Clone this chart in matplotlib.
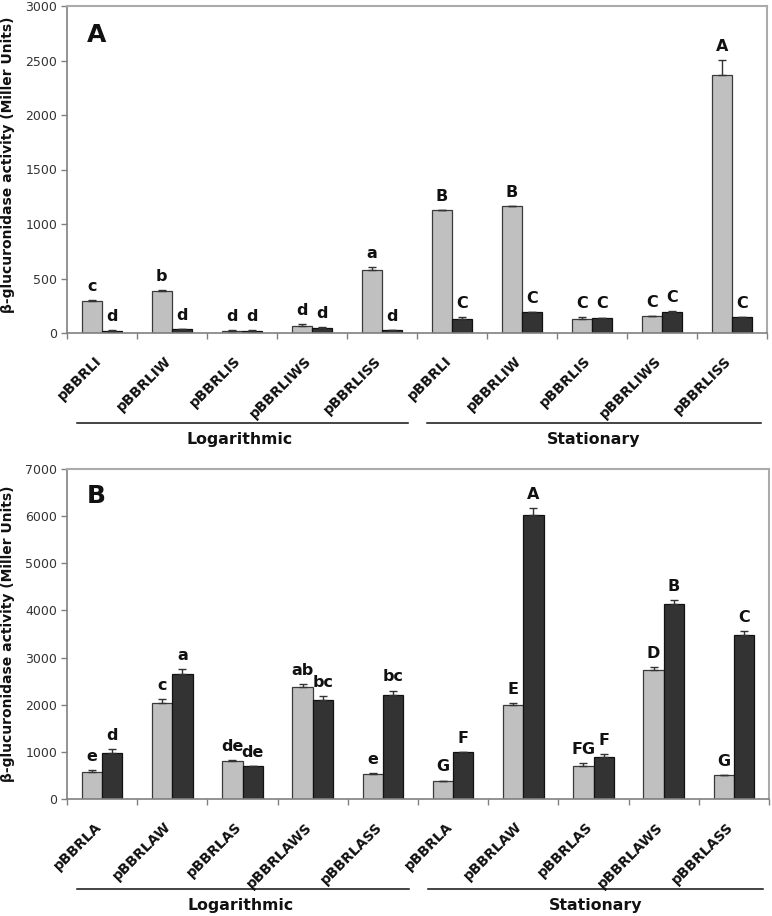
import matplotlib
matplotlib.use("Agg")
import matplotlib.pyplot as plt
import numpy as np

plt.rcParams['font.family'] = ['DejaVu Sans']

# ---------------- data ----------------
labels_A = ["pBBRLI", "pBBRLIW", "pBBRLIS", "pBBRLIWS", "pBBRLISS",
            "pBBRLI", "pBBRLIW", "pBBRLIS", "pBBRLIWS", "pBBRLISS"]
gray_A = [296, 385, 22, 67, 581, 1125, 1161, 131, 152, 2363]
gray_A_err = [5, 12, 3, 18, 27, 5, 5, 14, 4, 144]
dark_A = [20, 35, 20, 50, 25, 125, 189, 138, 193, 147]
dark_A_err = [3, 3, 3, 4, 3, 18, 5, 4, 6, 4]
letters_gray_A = ["c", "b", "d", "d", "a", "B", "B", "C", "C", "A"]
letters_dark_A = ["d", "d", "d", "d", "d", "C", "C", "C", "C", "C"]

labels_B = ["pBBRLA", "pBBRLAW", "pBBRLAS", "pBBRLAWS", "pBBRLASS",
            "pBBRLA", "pBBRLAW", "pBBRLAS", "pBBRLAWS", "pBBRLASS"]
gray_B = [580, 2032, 807, 2371, 524, 382, 1996, 708, 2732, 503]
gray_B_err = [35, 90, 12, 65, 20, 10, 40, 50, 70, 10]
dark_B = [983, 2647, 700, 2109, 2201, 991, 6030, 892, 4126, 3482]
dark_B_err = [70, 105, 10, 70, 100, 12, 140, 55, 85, 90]
letters_gray_B = ["e", "c", "de", "ab", "e", "G", "E", "FG", "D", "G"]
letters_dark_B = ["d", "a", "de", "bc", "bc", "F", "A", "F", "B", "C"]

phases = ["Logarithmic", "Stationary"]
ylim_A = 3000
ylim_B = 7000
yticks_A = [0, 500, 1000, 1500, 2000, 2500, 3000]
yticks_B = [0, 1000, 2000, 3000, 4000, 5000, 6000, 7000]

# ---------------- style ----------------
W, H = 772, 916
DPI = 100
GRAY = "#C0C0C0"
DARK = "#333333"
bw = 0.29

fig = plt.figure(figsize=(W / DPI, H / DPI), dpi=DPI)


def px_axes(left, top, right, bottom):
    return fig.add_axes([left / W, 1 - bottom / H, (right - left) / W, (bottom - top) / H])


def draw_panel(ax, labels, gv, ge, dv, de, lg, ld, ymax, yticks, letter, letter_y, ax_h_px):
    n = len(labels)
    x = np.arange(n)
    ax.bar(x - bw / 2, gv, bw, color=GRAY, edgecolor="#3a3a3a", linewidth=0.9, zorder=2)
    ax.bar(x + bw / 2, dv, bw, color=DARK, edgecolor="#111111", linewidth=0.9, zorder=2)
    ax.errorbar(x - bw / 2, gv, yerr=[np.zeros(n), ge], fmt="none", ecolor="#333333",
                elinewidth=1.0, capsize=3, capthick=1.0, zorder=3)
    ax.errorbar(x + bw / 2, dv, yerr=[np.zeros(n), de], fmt="none", ecolor="#333333",
                elinewidth=1.0, capsize=3, capthick=1.0, zorder=3)
    for i in range(n):
        ax.annotate(lg[i], xy=(x[i] - bw / 2, gv[i] + ge[i]), xytext=(0, 6.5),
                    textcoords="offset points", ha="center", va="baseline",
                    fontsize=11.5, fontweight="bold", color="#111111")
        ax.annotate(ld[i], xy=(x[i] + bw / 2, dv[i] + de[i]), xytext=(0, 6.5),
                    textcoords="offset points", ha="center", va="baseline",
                    fontsize=11.5, fontweight="bold", color="#111111")
    ax.set_xlim(-0.5, n - 0.5)
    ax.set_ylim(0, ymax)
    ax.set_yticks(yticks)
    ax.set_yticklabels([str(t) for t in yticks], fontsize=9, color="#333333")
    ax.tick_params(axis="y", direction="out", length=4, width=1, color="#808080", pad=3)
    ax.set_xticks(np.arange(-0.5, n, 1.0))
    ax.set_xticklabels([])
    ax.tick_params(axis="x", direction="out", length=4, width=1, color="#808080")
    for s in ["left", "bottom"]:
        ax.spines[s].set_color("#808080")
        ax.spines[s].set_linewidth(1.2)
    for s in ["top", "right"]:
        ax.spines[s].set_color("#ABABAB")
        ax.spines[s].set_linewidth(1.5)
    # rotated category labels
    for i in range(n):
        ax.annotate(labels[i], xy=(x[i], 0), xycoords=("data", "axes fraction"),
                    xytext=(-2.2, -18.5), textcoords="offset points",
                    rotation=45, ha="right", va="center", rotation_mode="anchor",
                    fontsize=10, fontweight="bold", color="#111111")
    # phase lines and titles
    tr = ax.get_xaxis_transform()
    line_y = -89.5 / ax_h_px
    text_y = -106.5 / ax_h_px
    ax.plot([-0.362, 4.367], [line_y, line_y], transform=tr, color="#111111", lw=1.1, clip_on=False)
    ax.plot([4.64, 9.41], [line_y, line_y], transform=tr, color="#111111", lw=1.1, clip_on=False)
    ax.text(1.97, text_y, phases[0], transform=tr, ha="center", va="center",
            fontsize=11.3, fontweight="bold", color="#111111")
    ax.text(7.03, text_y, phases[1], transform=tr, ha="center", va="center",
            fontsize=11.3, fontweight="bold", color="#111111")
    ax.text(0.0286, letter_y, letter, transform=ax.transAxes, ha="left", va="baseline",
            fontsize=18, fontweight="bold", color="#111111")


axA = px_axes(67, 6, 767, 333)
draw_panel(axA, labels_A, gray_A, gray_A_err, dark_A, dark_A_err, letters_gray_A,
           letters_dark_A, ylim_A, yticks_A, "A", 0.89, 327)
axB = px_axes(67, 469, 769, 799)
draw_panel(axB, labels_B, gray_B, gray_B_err, dark_B, dark_B_err, letters_gray_B,
           letters_dark_B, ylim_B, yticks_B, "B", 0.897, 330)

ylab = "\u03b2-glucuronidase activity (Miller Units)"
fig.text(8.5 / W, 1 - 165 / H, ylab, rotation=90, ha="center", va="center",
         fontsize=10, fontweight="bold", color="#111111")
fig.text(8.5 / W, 1 - 634 / H, ylab, rotation=90, ha="center", va="center",
         fontsize=10, fontweight="bold", color="#111111")

fig.savefig("out.png", dpi=DPI)
